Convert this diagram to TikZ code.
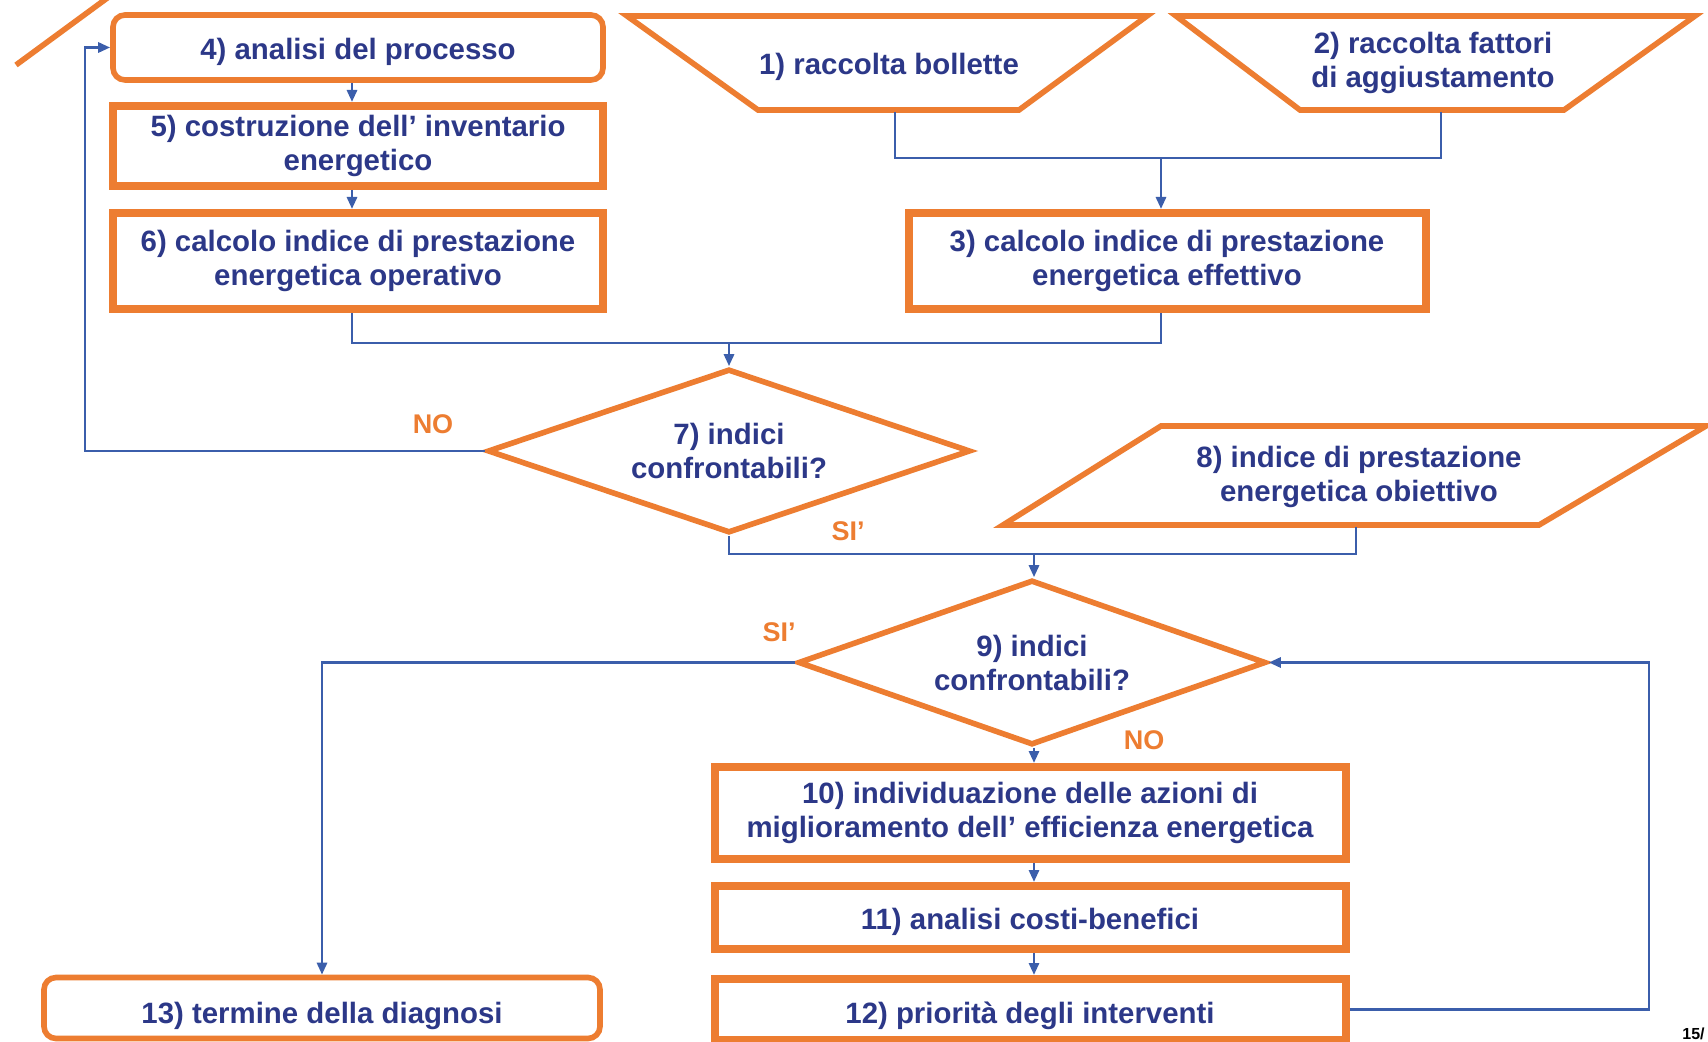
\documentclass[tikz,border=0pt]{standalone}
\usepackage{fontspec}
\setmainfont{Liberation Sans}
\usetikzlibrary{arrows.meta,shapes.geometric}
\definecolor{boxorange}{HTML}{ED7D31}
\definecolor{linkblue}{HTML}{3B5EAB}
\definecolor{inkblue}{HTML}{2C3888}
\begin{document}
\begin{tikzpicture}[x=0.5pt,y=-0.5pt,
  topgap/.style={execute at begin node={\rule{0pt}{#1}}},
  txt/.style={font=\fontsize{14.7}{17}\selectfont\bfseries, text=inkblue, align=center, topgap=15pt},
  stepbox/.style={txt, draw=boxorange, line width=4pt, fill=white, rectangle, inner sep=0pt},
  roundbox/.style={stepbox, line width=2.8pt, rounded corners=6pt},
  decision/.style={txt, draw=boxorange, line width=2.8pt, fill=white, diamond, aspect=3, inner sep=0pt},
  iobox/.style={draw=boxorange, line width=2.8pt, line join=miter, fill=white},
  conn/.style={draw=linkblue, line width=1.4pt},
  arr/.style={conn, -{Triangle[length=6pt,width=5pt]}},
  answer/.style={font=\fontsize{13.5}{15}\selectfont\bfseries, text=boxorange},
  pagenum/.style={font=\fontsize{8}{9}\selectfont\bfseries, text=black}
]
\useasboundingbox (0,0) rectangle (1708,1042);
\clip (0,0) rectangle (1708,1042);
\fill[white] (0,0) rectangle (1708,1042);

% edge of a shape cut off at the top left corner
\draw[boxorange, line width=2.8pt] (16,65) -- (110,-4);

% input shapes: bills, adjustment factors, target index
\draw[iobox] (627,16) -- (1147,16) -- (1019,110) -- (758,110) -- cycle;
\node[txt] (t1) at (889,63) {1) raccolta bollette};
\draw[iobox] (1176,16) -- (1695,16) -- (1564,110) -- (1300,110) -- cycle;
\node[txt] (t2) at (1433,63) {2) raccolta fattori\\di aggiustamento};
\draw[iobox] (1161,426) -- (1706,426) -- (1539,525) -- (1003,525) -- cycle;
\node[txt] (p8) at (1359,477) {8) indice di prestazione\\energetica obiettivo};

\coordinate (t1s) at (895,112);
\coordinate (t2s) at (1441,112);
\coordinate (p8s) at (1356,527);

% process steps
\node[roundbox, minimum width=245pt, minimum height=32.5pt] (b4) at (358,47.5) {4) analisi del processo};
\node[stepbox, minimum width=245pt, minimum height=40pt] (b5) at (358,146) {5) costruzione dell’ inventario\\energetico};
\node[stepbox, minimum width=245pt, minimum height=48pt] (b6) at (358,261) {6) calcolo indice di prestazione\\energetica operativo};
\node[stepbox, minimum width=258.5pt, minimum height=48pt] (b3) at (1167,261) {3) calcolo indice di prestazione\\energetica effettivo};

\node[decision, minimum width=241.5pt, minimum height=82pt] (d7) at (729,451) {7) indici\\confrontabili?};
\node[decision, minimum width=234pt, minimum height=82.5pt] (d9) at (1032,662.5) {9) indici\\confrontabili?};

\node[stepbox, minimum width=315.5pt, minimum height=46pt] (b10) at (1030,813) {10) individuazione delle azioni di\\miglioramento dell’ efficienza energetica};
\node[stepbox, minimum width=315.5pt, minimum height=31.5pt] (b11) at (1030,917.5) {11) analisi costi-benefici};
\node[stepbox, minimum width=315.5pt, minimum height=30.5pt, topgap=17.5pt] (b12) at (1030,1009.5) {12) priorità degli interventi};
\node[roundbox, minimum width=278pt, minimum height=30.5pt, topgap=19pt] (b13) at (322,1008) {13) termine della diagnosi};

% junction points of the connectors
\coordinate (colL) at (352,0);
\coordinate (lx) at (85,0);
\coordinate (rx) at (1649,0);
\coordinate (j1) at (1161,158);
\coordinate (j2) at (729,343);
\coordinate (j3) at (1034,554);

% connectors
\draw[conn] (t1s) |- (j1) -| (t2s);
\draw[arr] (j1) -- (j1 |- b3.north);

\draw[arr] (b4.south -| colL) -- (b5.north -| colL);
\draw[arr] (b5.south -| colL) -- (b6.north -| colL);

\draw[conn] (b6.south -| colL) |- (j2) -| (b3.south -| j1);
\draw[arr] (j2) -- (d7.north);

\draw[arr] (d7.west) -- (d7.west -| lx) |- (b4.west);

\draw[conn] (d7.south) |- (j3) -| (p8s);
\draw[arr] (j3) -- (j3 |- d9.north);

\draw[arr] (d9.west) -| (b13.north);
\draw[arr] (j3 |- d9.south) -- (j3 |- b10.north);
\draw[arr] (j3 |- b10.south) -- (j3 |- b11.north);
\draw[arr] (j3 |- b11.south) -- (j3 |- b12.north);
\draw[arr] (b12.east) -| (d9.east -| rx) -- (d9.east);

% answers on the decision branches
\node[answer] (no7) at (433,424) {NO};
\node[answer] (si7) at (848,531) {SI’};
\node[answer] (si9) at (779,632) {SI’};
\node[answer] (no9) at (1144,740) {NO};

% page number in the corner
\node[pagenum, anchor=west, inner sep=0pt] (pg) at (1682,1034) {15/};
\end{tikzpicture}
\end{document}
